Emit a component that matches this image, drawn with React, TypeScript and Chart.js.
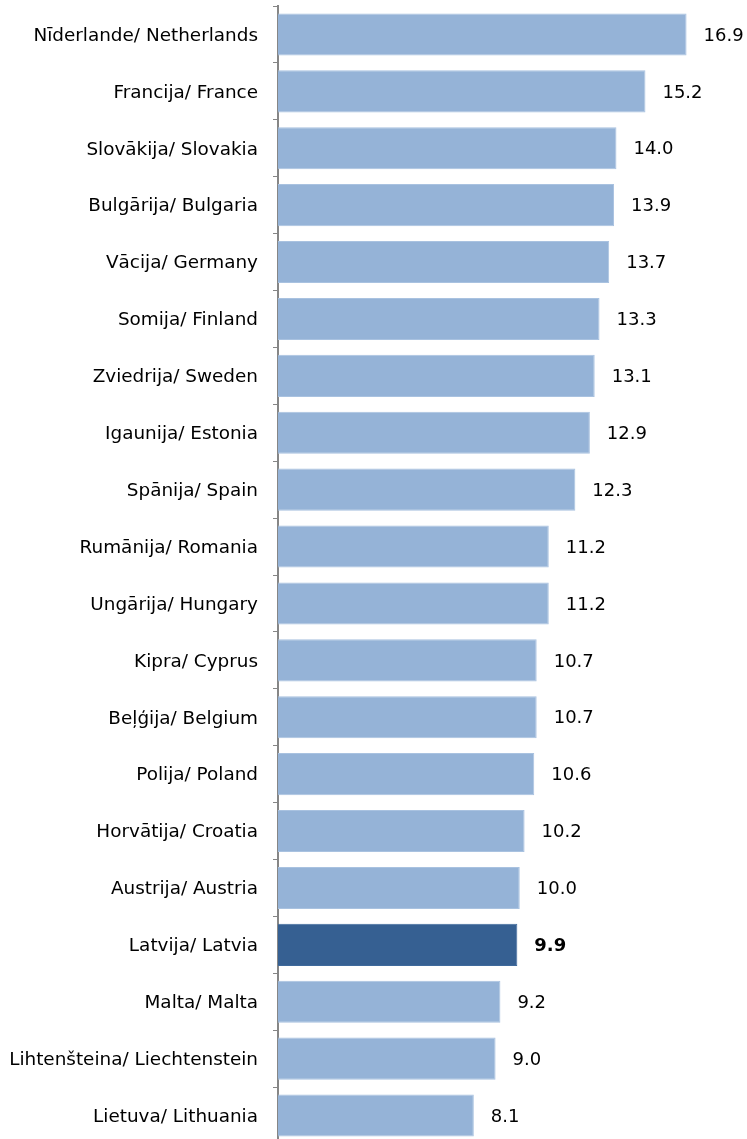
import React, { useEffect, useRef } from "react";
import { Chart, registerables } from "chart.js";

Chart.register(...registerables);

const categories = [
  "Nīderlande/ Netherlands",
  "Francija/ France",
  "Slovākija/ Slovakia",
  "Bulgārija/ Bulgaria",
  "Vācija/ Germany",
  "Somija/ Finland",
  "Zviedrija/ Sweden",
  "Igaunija/ Estonia",
  "Spānija/ Spain",
  "Rumānija/ Romania",
  "Ungārija/ Hungary",
  "Kipra/ Cyprus",
  "Beļģija/ Belgium",
  "Polija/ Poland",
  "Horvātija/ Croatia",
  "Austrija/ Austria",
  "Latvija/ Latvia",
  "Malta/ Malta",
  "Lihtenšteina/ Liechtenstein",
  "Lietuva/ Lithuania",
];

const values = [16.9, 15.2, 14.0, 13.9, 13.7, 13.3, 13.1, 12.9, 12.3, 11.2, 11.2, 10.7, 10.7, 10.6, 10.2, 10.0, 9.9, 9.2, 9.0, 8.1];

const highlightCategory = "Latvija/ Latvia";

const FONT = "'DejaVu Sans', Verdana, sans-serif";

const valueLabels = {
  id: "valueLabels",
  afterDatasetsDraw(chart: any) {
    const ctx = chart.ctx;
    const meta = chart.getDatasetMeta(0);
    ctx.save();
    ctx.textBaseline = "middle";
    ctx.textAlign = "left";
    ctx.fillStyle = "#000000";
    meta.data.forEach((bar: any, i: number) => {
      const bold = categories[i] === highlightCategory;
      ctx.font = `${bold ? "bold " : ""}18px ${FONT}`;
      ctx.fillText(values[i].toFixed(1), bar.x + 17, bar.y + 1.5);
    });
    ctx.restore();
  },
};

export default function App() {
  const ref = useRef<HTMLCanvasElement | null>(null);
  useEffect(() => {
    if (!ref.current) return;
    const chart = new Chart(ref.current, {
      type: "bar",
      data: {
        labels: categories,
        datasets: [
          {
            data: values,
            backgroundColor: categories.map((c) => (c === highlightCategory ? "#366092" : "#95B3D7")),
            borderColor: categories.map((c) => (c === highlightCategory ? "#3F6A9C" : "#A9C2E0")),
            borderWidth: 1,
            categoryPercentage: 1,
            barPercentage: 0.74,
          },
        ],
      },
      options: {
        indexAxis: "y",
        animation: false,
        responsive: false,
        maintainAspectRatio: false,
        layout: { padding: { top: 6, bottom: 6, left: 0, right: 0 } },
        plugins: {
          legend: { display: false },
          tooltip: { enabled: false },
        },
        scales: {
          x: {
            display: false,
            min: 0,
            max: 19.4,
          },
          y: {
            afterFit: (scale: any) => {
              scale.width = 278;
              scale.paddingTop = 0;
              scale.paddingBottom = 0;
            },
            grid: {
              display: true,
              drawOnChartArea: false,
              drawTicks: true,
              tickLength: 5,
              color: "#868686",
              lineWidth: 1,
              offset: true,
            },
            border: { display: true, color: "#868686", width: 2 },
            ticks: {
              padding: 15,
              labelOffset: 1.5,
              color: "#000000",
              font: { family: FONT, size: 18.4 },
            },
          },
        },
      },
      plugins: [valueLabels],
    });
    return () => chart.destroy();
  }, []);
  return (
    <div style={{ position: "fixed", left: 0, top: 0, width: 747, height: 1139, overflow: "hidden", background: "#fff" }}>
      <canvas ref={ref} width={747} height={1150} style={{ display: "block" }} />
    </div>
  );
}
